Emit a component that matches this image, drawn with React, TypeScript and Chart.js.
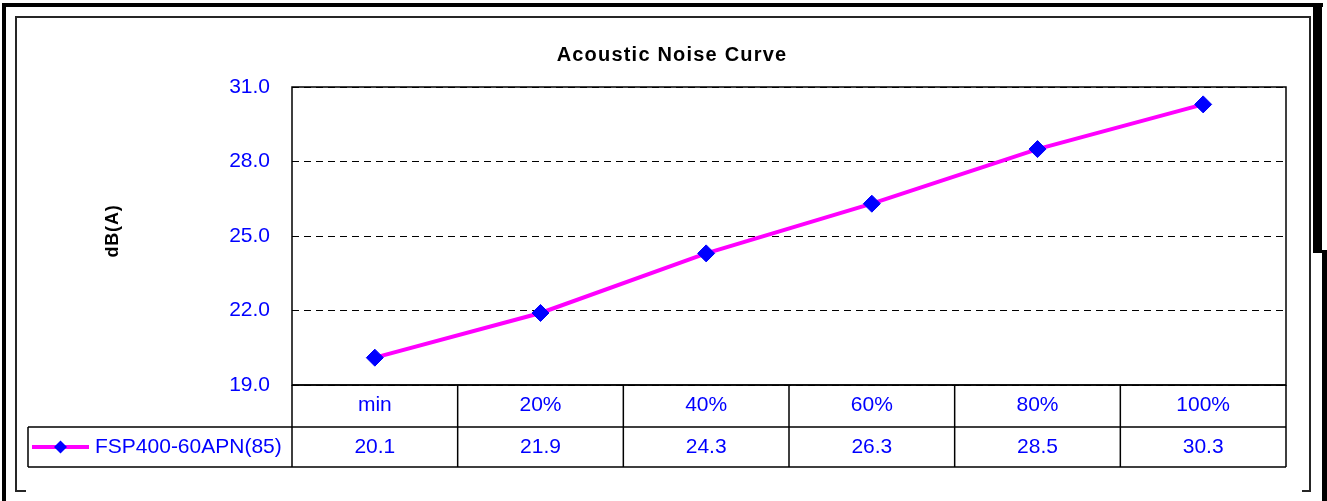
import { useEffect, useRef } from "react";
import { Chart, registerables } from "chart.js";

Chart.register(...registerables);

const chartTitle = "Acoustic Noise Curve";
const yAxisTitle = "dB(A)";
const seriesName = "FSP400-60APN(85)";
const categories = ["min", "20%", "40%", "60%", "80%", "100%"];
const noiseValues = [20.1, 21.9, 24.3, 26.3, 28.5, 30.3];
const yTickValues = [19, 22, 25, 28, 31];

const FONT = "Arial, 'Liberation Sans', sans-serif";
const BLUE = "#0000FF";
const MAGENTA = "#FF00FF";

const framePlugin = {
  id: "excelFrame",
  beforeDraw(chart: any) {
    const ctx = chart.ctx;
    ctx.save();
    ctx.fillStyle = "#ffffff";
    ctx.fillRect(0, 0, chart.width, chart.height);
    // outer thick border
    ctx.fillStyle = "#000000";
    ctx.fillRect(2, 3, 1321, 4);
    ctx.fillRect(2, 3, 4, 498);
    ctx.fillRect(1313, 3, 9, 250);
    ctx.fillRect(1322, 250, 5, 251);
    // inner thin frame
    ctx.strokeStyle = "#262626";
    ctx.lineWidth = 2;
    ctx.beginPath();
    ctx.moveTo(26, 491);
    ctx.lineTo(16, 491);
    ctx.lineTo(16, 17);
    ctx.lineTo(1310, 17);
    ctx.lineTo(1310, 491);
    ctx.lineTo(1302, 491);
    ctx.stroke();
    ctx.restore();
  },
  afterDraw(chart: any) {
    const ctx = chart.ctx;
    const area = chart.chartArea;
    const xs = chart.scales.x;
    const n = categories.length;
    const colW = (area.right - area.left) / n;
    const row1Bottom = area.bottom + 42;
    const row2Bottom = row1Bottom + 40;
    const legendLeft = 28;

    ctx.save();
    // chart title
    ctx.fillStyle = "#000000";
    ctx.font = `bold 20px ${FONT}`;
    (ctx as any).letterSpacing = "1.2px";
    ctx.textAlign = "center";
    ctx.textBaseline = "middle";
    ctx.fillText(chartTitle, 672, 55.5);

    // y axis title
    ctx.save();
    ctx.translate(113, 231);
    ctx.rotate(-Math.PI / 2);
    ctx.font = `bold 18px ${FONT}`;
    (ctx as any).letterSpacing = "0.8px";
    ctx.fillText(yAxisTitle, 0, 0);
    ctx.restore();
    (ctx as any).letterSpacing = "0px";

    // plot border
    ctx.strokeStyle = "#000000";
    ctx.lineWidth = 1.5;
    ctx.strokeRect(area.left, area.top, area.right - area.left, area.bottom - area.top);

    // data table grid
    ctx.beginPath();
    ctx.moveTo(area.left, area.bottom);
    ctx.lineTo(area.right, area.bottom);
    ctx.moveTo(legendLeft, row1Bottom);
    ctx.lineTo(area.right, row1Bottom);
    ctx.moveTo(legendLeft, row2Bottom);
    ctx.lineTo(area.right, row2Bottom);
    for (let i = 0; i <= n; i++) {
      const x = area.left + i * colW;
      ctx.moveTo(x, area.bottom);
      ctx.lineTo(x, row2Bottom);
    }
    ctx.moveTo(legendLeft, row1Bottom);
    ctx.lineTo(legendLeft, row2Bottom);
    ctx.stroke();

    // legend key
    const my = (row1Bottom + row2Bottom) / 2;
    ctx.strokeStyle = MAGENTA;
    ctx.lineWidth = 4;
    ctx.beginPath();
    ctx.moveTo(32, my);
    ctx.lineTo(89, my);
    ctx.stroke();
    ctx.fillStyle = BLUE;
    ctx.beginPath();
    ctx.moveTo(60.5 - 6.5, my);
    ctx.lineTo(60.5, my - 6.5);
    ctx.lineTo(60.5 + 6.5, my);
    ctx.lineTo(60.5, my + 6.5);
    ctx.closePath();
    ctx.fill();

    ctx.font = `21px ${FONT}`;
    ctx.textAlign = "left";
    ctx.fillText(seriesName, 95, my);

    // values row
    ctx.textAlign = "center";
    noiseValues.forEach((v, i) => {
      const x = xs.getPixelForValue(i);
      ctx.fillText(v.toFixed(1), x, my);
    });
    ctx.restore();
  },
};

export default function App() {
  const canvasRef = useRef<HTMLCanvasElement | null>(null);

  useEffect(() => {
    document.body.style.margin = "0";
    const canvas = canvasRef.current;
    if (!canvas) return;
    const chart = new Chart(canvas, {
      type: "line",
      data: {
        labels: categories,
        datasets: [
          {
            label: seriesName,
            data: noiseValues,
            borderColor: MAGENTA,
            borderWidth: 4,
            tension: 0,
            pointStyle: "rectRot",
            pointRadius: 8.5,
            pointBorderWidth: 1,
            pointBackgroundColor: BLUE,
            pointBorderColor: BLUE,
            fill: false,
            clip: false as any,
          },
        ],
      },
      options: {
        animation: false,
        responsive: false,
        devicePixelRatio: 1,
        layout: { padding: { left: 0, top: 87, right: 41, bottom: 74 } },
        plugins: {
          legend: { display: false },
          title: { display: false },
          tooltip: { enabled: false },
        },
        scales: {
          x: {
            type: "category",
            offset: true,
            afterFit: (scale: any) => {
              scale.height = 42;
            },
            grid: { display: false, drawTicks: false },
            border: { display: false },
            ticks: {
              color: BLUE,
              font: { family: FONT, size: 21 },
              padding: 8,
              maxRotation: 0,
              autoSkip: false,
            },
          },
          y: {
            min: yTickValues[0],
            max: yTickValues[yTickValues.length - 1],
            afterFit: (scale: any) => {
              scale.width = 292;
            },
            afterBuildTicks: (scale: any) => {
              scale.ticks = yTickValues.map((v) => ({ value: v }));
            },
            grid: { color: "#000000", lineWidth: 1, drawTicks: false },
            border: { display: false, dash: [7, 5] },
            ticks: {
              color: BLUE,
              font: { family: FONT, size: 21 },
              padding: 22,
              callback: (v: any) => Number(v).toFixed(1),
            },
          },
        },
      },
      plugins: [framePlugin],
    });
    return () => chart.destroy();
  }, []);

  return (
    <div style={{ width: 1327, height: 501 }}>
      <canvas ref={canvasRef} width={1327} height={501} style={{ display: "block" }} />
    </div>
  );
}
